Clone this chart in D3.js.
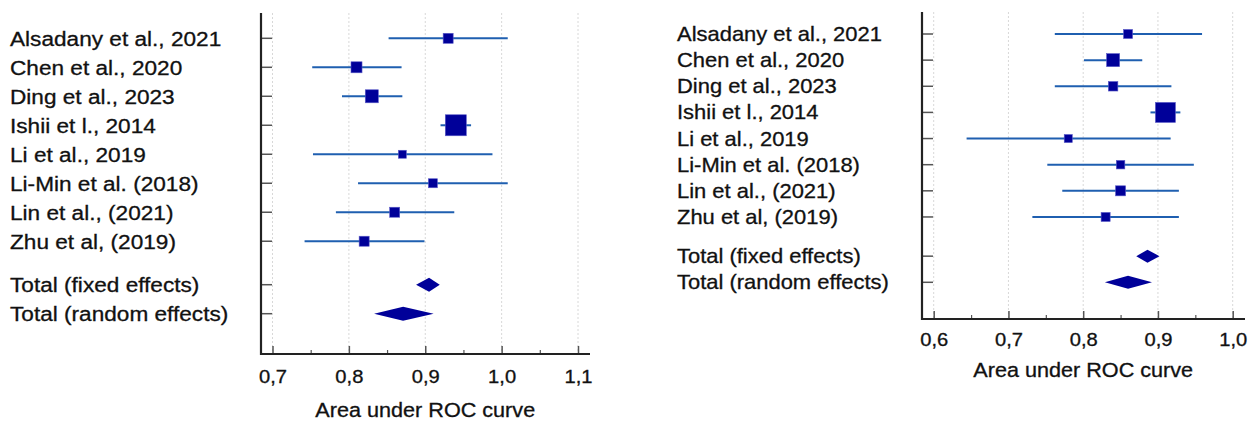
<!DOCTYPE html>
<html>
<head>
<meta charset="utf-8">
<script src="https://cdn.jsdelivr.net/npm/d3@7"></script>
<style>
  body { margin: 0; background: #fff; }
  svg { display: block; font-family: "Liberation Sans", Arial, sans-serif; }
  text { stroke: #111; stroke-width: 0.3px; }
</style>
</head>
<body>
<div id="chart"></div>
<script>
// study labels (same for both panels)
const studies = ['Alsadany et al., 2021', 'Chen et al., 2020', 'Ding et al., 2023', 'Ishii et l., 2014',
  'Li et al., 2019', 'Li-Min et al. (2018)', 'Lin et al., (2021)', 'Zhu et al, (2019)'];
const totals = ['Total (fixed effects)', 'Total (random effects)'];

// left panel: AUC, 95% CI, weight (%)
const leftAuc = [0.930, 0.810, 0.830, 0.940, 0.870, 0.910, 0.860, 0.820];
const leftLow = [0.852, 0.752, 0.791, 0.920, 0.753, 0.812, 0.783, 0.742];
const leftHigh = [1.008, 0.869, 0.870, 0.960, 0.988, 1.008, 0.938, 0.899];
const leftWeight = [8.5, 10.3, 14.4, 37.5, 5.4, 6.9, 8.5, 8.5];
const leftTotAuc = [0.905, 0.871];
const leftTotLow = [0.888, 0.833];
const leftTotHigh = [0.919, 0.911];
const leftTicks = [0.7, 0.8, 0.9, 1.0, 1.1];

// right panel
const rightAuc = [0.860, 0.840, 0.840, 0.910, 0.780, 0.850, 0.850, 0.830];
const rightLow = [0.762, 0.801, 0.762, 0.890, 0.644, 0.752, 0.772, 0.732];
const rightHigh = [0.959, 0.879, 0.918, 0.930, 0.917, 0.948, 0.928, 0.928];
const rightWeight = [7.7, 16.0, 8.5, 37.8, 6.1, 6.8, 9.5, 7.7];
const rightTotAuc = [0.886, 0.860];
const rightTotLow = [0.871, 0.829];
const rightTotHigh = [0.902, 0.892];
const rightTicks = [0.6, 0.7, 0.8, 0.9, 1.0];

const W = 1250, H = 421;
const svg = d3.select('#chart').append('svg').attr('width', W).attr('height', H);

const stretch = 'scale(1.12,1)';  // the source picture is a bit wide
const comma = d3.format('.1f');

function forest(p) {
  const x = d3.scaleLinear().domain(p.domain).range(p.xRange);
  const y = d3.scaleLinear().domain([0, 9.5]).range(p.yRange);
  const size = d3.scaleSqrt().domain([0, 40]).range([0, p.maxBox]);
  const g = svg.append('g');

  const rows = studies.map((s, i) => ({ label: s, pos: i, est: p.auc[i], lo: p.low[i], hi: p.high[i], w: p.weight[i] }));
  const tots = totals.map((s, i) => ({ label: s, pos: 8.5 + i, est: p.totAuc[i], lo: p.totLow[i], hi: p.totHigh[i] }));
  const all = rows.concat(tots);

  // grid
  g.selectAll('.grid').data(p.ticks).enter().append('line')
    .attr('x1', d => x(d)).attr('x2', d => x(d))
    .attr('y1', p.top).attr('y2', p.bottom)
    .attr('stroke', '#d8d8d8').attr('stroke-width', 1).attr('stroke-dasharray', '2,2');

  // x axis ticks (pointing inward)
  const minor = d3.range(p.domain[0] + 0.05, p.domain[1], 0.1);
  g.append('g').attr('transform', `translate(0,${p.bottom})`)
    .call(d3.axisBottom(x).tickValues(minor).tickSize(-4).tickFormat(''))
    .call(a => a.select('.domain').remove())
    .selectAll('line').attr('stroke', '#555').attr('stroke-width', 1.2);
  const ax = g.append('g').attr('transform', `translate(0,${p.bottom})`)
    .call(d3.axisBottom(x).tickValues(p.ticks).tickSize(-8).tickPadding(p.tickPad).tickFormat(d => comma(d).replace('.', ',')))
    .call(a => a.select('.domain').remove());
  ax.selectAll('line').attr('stroke', '#555').attr('stroke-width', 1.5);
  ax.selectAll('text').attr('font-size', 18).attr('fill', '#111')
    .attr('font-family', '"Liberation Sans", Arial, sans-serif').attr('transform', stretch);

  // y axis ticks at rows
  g.selectAll('.ytick').data(all).enter().append('line')
    .attr('x1', p.axisX).attr('x2', p.axisX + 11)
    .attr('y1', d => y(d.pos)).attr('y2', d => y(d.pos))
    .attr('stroke', '#555').attr('stroke-width', 1.5);

  // frame axes
  g.append('path')
    .attr('d', `M${p.axisX},${p.top}V${p.bottom}H${p.axisRight}`)
    .attr('fill', 'none').attr('stroke', '#222').attr('stroke-width', 2.2);

  // CI lines
  g.selectAll('.ci').data(rows).enter().append('line')
    .attr('x1', d => x(d.lo)).attr('x2', d => x(d.hi))
    .attr('y1', d => y(d.pos)).attr('y2', d => y(d.pos))
    .attr('stroke', '#1f5fb0').attr('stroke-width', 2);

  // boxes
  g.selectAll('.box').data(rows).enter().append('rect')
    .attr('x', d => x(d.est) - size(d.w) / 2)
    .attr('y', d => y(d.pos) - size(d.w) / 2)
    .attr('width', d => size(d.w)).attr('height', d => size(d.w))
    .attr('fill', '#000099').attr('stroke', '#5a5ac8').attr('stroke-width', 0.6);

  // diamonds
  g.selectAll('.dia').data(tots).enter().append('path')
    .attr('d', d => {
      const cy = y(d.pos), h = p.diaH / 2;
      return `M${x(d.lo)},${cy}L${x(d.est)},${cy - h}L${x(d.hi)},${cy}L${x(d.est)},${cy + h}Z`;
    })
    .attr('fill', '#000099');

  // labels
  g.selectAll('.lab').data(all).enter().append('text')
    .attr('transform', d => `translate(${p.labelX},${y(d.pos)}) ${stretch}`)
    .attr('dy', '0.36em')
    .attr('font-size', p.labelSize).attr('fill', '#111')
    .text(d => d.label);

  // axis title
  g.append('text')
    .attr('transform', `translate(${(x(p.domain[0]) + x(p.domain[1])) / 2},${p.titleY}) ${stretch}`)
    .attr('text-anchor', 'middle').attr('dy', '0.36em')
    .attr('font-size', 19.3).attr('fill', '#111')
    .text('Area under ROC curve');
}

forest({
  auc: leftAuc, low: leftLow, high: leftHigh, weight: leftWeight,
  totAuc: leftTotAuc, totLow: leftTotLow, totHigh: leftTotHigh, ticks: leftTicks,
  domain: [0.7, 1.1], xRange: [272.5, 578], yRange: [38.3, 313.7],
  axisX: 261, axisRight: 590, top: 13, bottom: 354, tickPad: 16, titleY: 410.5,
  labelX: 10, labelSize: 20.2, maxBox: 21.7, diaH: 14
});

forest({
  auc: rightAuc, low: rightLow, high: rightHigh, weight: rightWeight,
  totAuc: rightTotAuc, totLow: rightTotLow, totHigh: rightTotHigh, ticks: rightTicks,
  domain: [0.6, 1.0], xRange: [933.7, 1232.7], yRange: [34, 282.3],
  axisX: 922, axisRight: 1245, top: 12, bottom: 319, tickPad: 14, titleY: 370.5,
  labelX: 677, labelSize: 19.6, maxBox: 20.6, diaH: 13
});
</script>
</body>
</html>
